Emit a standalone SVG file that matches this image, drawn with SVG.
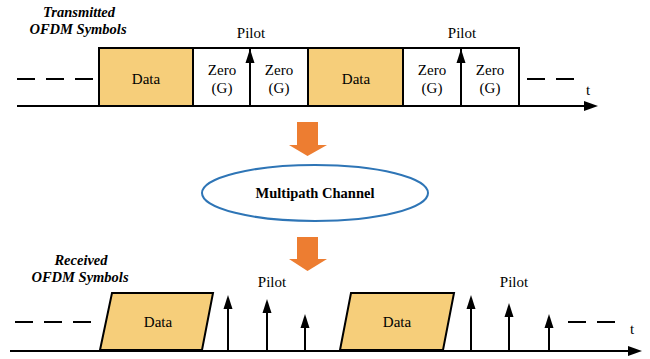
<svg xmlns="http://www.w3.org/2000/svg" width="650" height="359" viewBox="0 0 650 359">
  <defs>
    <style>
      .lbl { font-family: "Liberation Serif", "Times New Roman", serif; font-size: 15px; fill: #000; text-anchor: middle; }
      .title { font-family: "Liberation Serif", "Times New Roman", serif; font-size: 14.5px; font-weight: bold; font-style: italic; fill: #000; text-anchor: middle; }
      .bold { font-family: "Liberation Serif", "Times New Roman", serif; font-size: 14.5px; font-weight: bold; fill: #000; text-anchor: middle; }
      .data { fill: #F6CE7A; stroke: #000; stroke-width: 2; }
      .zero { fill: #FFFFFF; stroke: #000; stroke-width: 2; }
      .axis { stroke: #000; stroke-width: 2; fill: none; }
      .dash { stroke: #000; stroke-width: 2; fill: none; stroke-dasharray: 18 11; }
      .stem { stroke: #000; stroke-width: 2; fill: none; }
      .head { fill: #000; }
      .flow { fill: #ED7D31; }
    </style>
  </defs>

  <!-- Transmitted frame -->
  <g id="tx-title">
    <text class="title" x="79" y="17">Transmitted</text>
    <text class="title" x="78" y="34">OFDM Symbols</text>
  </g>
  <g id="tx-axis">
    <line class="axis" x1="17" y1="106" x2="586" y2="106"/>
    <polygon class="head" points="584,101 598,106 584,111"/>
    <text class="lbl" x="588" y="95">t</text>
    <line class="dash" x1="17" y1="79" x2="94" y2="79"/>
    <line class="dash" x1="527" y1="79" x2="576" y2="79" stroke-dasharray="20 9"/>
  </g>
  <g id="tx-data1">
    <rect class="data" x="99" y="48" width="94" height="58"/>
    <text class="lbl" x="146" y="84">Data</text>
  </g>
  <g id="tx-zero1">
    <rect class="zero" x="193" y="48" width="57" height="58"/>
    <text class="lbl" x="222" y="75">Zero</text>
    <text class="lbl" x="222" y="93">(G)</text>
  </g>
  <g id="tx-zero2">
    <rect class="zero" x="250" y="48" width="58" height="58"/>
    <text class="lbl" x="279" y="75">Zero</text>
    <text class="lbl" x="279" y="93">(G)</text>
  </g>
  <g id="tx-pilot1">
    <line class="stem" x1="250" y1="60" x2="250" y2="106"/>
    <polygon class="head" points="245.5,63 250,49 254.5,63"/>
    <text class="lbl" x="251" y="38">Pilot</text>
  </g>
  <g id="tx-data2">
    <rect class="data" x="308" y="48" width="95" height="58"/>
    <text class="lbl" x="356" y="84">Data</text>
  </g>
  <g id="tx-zero3">
    <rect class="zero" x="403" y="48" width="58" height="58"/>
    <text class="lbl" x="432" y="75">Zero</text>
    <text class="lbl" x="432" y="93">(G)</text>
  </g>
  <g id="tx-zero4">
    <rect class="zero" x="461" y="48" width="58" height="58"/>
    <text class="lbl" x="490" y="75">Zero</text>
    <text class="lbl" x="490" y="93">(G)</text>
  </g>
  <g id="tx-pilot2">
    <line class="stem" x1="461" y1="60" x2="461" y2="106"/>
    <polygon class="head" points="456.5,63 461,49 465.5,63"/>
    <text class="lbl" x="462" y="38">Pilot</text>
  </g>

  <!-- Channel -->
  <g id="connectors">
    <polygon class="flow" points="297,122 318,122 318,145 327,145 307.5,156 289,145 297,145"/>
    <polygon class="flow" points="297,237 318,237 318,259 327,259 307.5,271 289,259 297,259"/>
  </g>
  <g id="channel">
    <ellipse cx="315" cy="193" rx="113" ry="28" fill="#FFFFFF" stroke="#2E75B6" stroke-width="2"/>
    <text class="bold" x="315" y="198">Multipath Channel</text>
  </g>

  <!-- Received frame -->
  <g id="rx-title">
    <text class="title" x="81" y="265">Received</text>
    <text class="title" x="80" y="282">OFDM Symbols</text>
  </g>
  <g id="rx-axis">
    <line class="axis" x1="10" y1="351" x2="630" y2="351"/>
    <polygon class="head" points="628,346 642,351 628,356"/>
    <text class="lbl" x="632" y="334">t</text>
    <line class="dash" x1="15" y1="322" x2="93" y2="322" stroke-dasharray="20 9"/>
    <line class="dash" x1="568" y1="322" x2="616" y2="322" stroke-dasharray="20 8"/>
  </g>
  <g id="rx-data1">
    <polygon class="data" points="100,350 112,293 213,293 202,350"/>
    <text class="lbl" x="158" y="327">Data</text>
  </g>
  <g id="rx-pilots1">
    <line class="stem" x1="228" y1="305" x2="228" y2="351"/>
    <polygon class="head" points="223.5,309 228,295 232.5,309"/>
    <line class="stem" x1="267" y1="309" x2="267" y2="351"/>
    <polygon class="head" points="262.5,313 267,299 271.5,313"/>
    <line class="stem" x1="305" y1="325" x2="305" y2="351"/>
    <polygon class="head" points="300.5,328 305,314 309.5,328"/>
    <text class="lbl" x="272" y="287">Pilot</text>
  </g>
  <g id="rx-data2">
    <polygon class="data" points="340,350 351,293 454,293 443,350"/>
    <text class="lbl" x="397" y="327">Data</text>
  </g>
  <g id="rx-pilots2">
    <line class="stem" x1="471" y1="305" x2="471" y2="351"/>
    <polygon class="head" points="466.5,309 471,295 475.5,309"/>
    <line class="stem" x1="509" y1="313" x2="509" y2="351"/>
    <polygon class="head" points="504.5,317 509,303 513.5,317"/>
    <line class="stem" x1="549" y1="324" x2="549" y2="351"/>
    <polygon class="head" points="544.5,328 549,314 553.5,328"/>
    <text class="lbl" x="514" y="287">Pilot</text>
  </g>
</svg>
